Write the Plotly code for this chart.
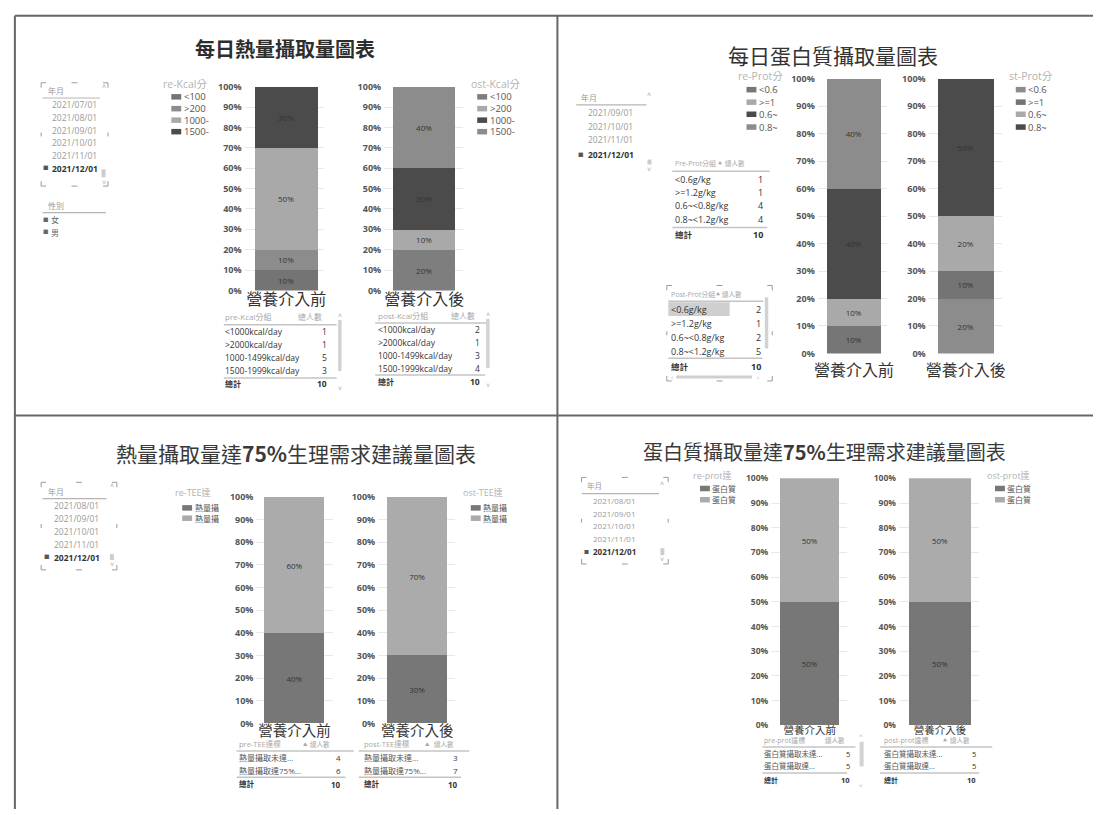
import plotly.graph_objects as go

W, H = 1100, 815

# ------------------------------------------------------------------ data
STAGES = ['營養介入前', '營養介入後']
TITLES = ['每日熱量攝取量圖表', '每日蛋白質攝取量圖表',
          '熱量攝取量達75%生理需求建議量圖表', '蛋白質攝取量達75%生理需求建議量圖表']

MONTH_HEADER = '年月'
MONTHS_KCAL = ['2021/07/01', '2021/08/01', '2021/09/01', '2021/10/01', '2021/11/01', '2021/12/01']
MONTHS_PROT = ['2021/09/01', '2021/10/01', '2021/11/01', '2021/12/01']
MONTHS_TEE = ['2021/08/01', '2021/09/01', '2021/10/01', '2021/11/01', '2021/12/01']
MONTHS_P75 = ['2021/08/01', '2021/09/01', '2021/10/01', '2021/11/01', '2021/12/01']
SELECTED_MONTH = '2021/12/01'
GENDER_HEADER = '性別'
GENDERS = ['女', '男']
COUNT_HEADER = '總人數'
TOTAL_LABEL = '總計'

KCAL_GROUPS = ['<1000kcal/day', '>2000kcal/day', '1000-1499kcal/day', '1500-1999kcal/day']
KCAL_PRE = [1, 1, 5, 3]
KCAL_POST = [2, 1, 3, 4]
KCAL_LEGEND = ['<100', '>200', '1000-', '1500-']
KCAL_FIELDS = ['pre-Kcal分組', 'post-Kcal分組']
KCAL_LEGEND_TITLES = ['re-Kcal分', 'ost-Kcal分']

PROT_GROUPS = ['<0.6g/kg', '>=1.2g/kg', '0.6~<0.8g/kg', '0.8~<1.2g/kg']
PROT_PRE = [1, 1, 4, 4]
PROT_POST = [2, 1, 2, 5]
PROT_LEGEND = ['<0.6', '>=1', '0.6~', '0.8~']
PROT_FIELDS = ['Pre-Prot分組', 'Post-Prot分組']
PROT_LEGEND_TITLES = ['re-Prot分', 'st-Prot分']

TEE_GROUPS = ['熱量攝取未達...', '熱量攝取達75%...']
TEE_PRE = [4, 6]
TEE_POST = [3, 7]
TEE_LEGEND = ['熱量攝', '熱量攝']
TEE_FIELDS = ['pre-TEE達標', 'post-TEE達標']
TEE_LEGEND_TITLES = ['re-TEE達', 'ost-TEE達']

P75_GROUPS = ['蛋白質攝取未達...', '蛋白質攝取達...']
P75_PRE = [5, 5]
P75_POST = [5, 5]
P75_LEGEND = ['蛋白質', '蛋白質']
P75_FIELDS = ['pre-prot達標', 'post-prot達標']
P75_LEGEND_TITLES = ['re-prot達', 'ost-prot達']

# ------------------------------------------------------------------ style
FONT = 'Open Sans, Noto Sans CJK TC, sans-serif'
CJK = 'Noto Sans CJK TC, sans-serif'
DARK, MID, MID2, LIGHT = '#4b4b4b', '#747474', '#8c8c8c', '#a9a9a9'
C_KCAL_PRE = [MID, MID2, LIGHT, DARK]
C_KCAL_POST = ['#7e7e7e', LIGHT, DARK, MID2]
C_PROT_PRE = ['#767676', LIGHT, DARK, MID2]
C_PROT_POST = [MID2, MID, LIGHT, DARK]
C_TWO = ['#777777', '#ababab']


def X(px):
    return px / W


def Y(py):
    return 1 - py / H


shapes, annotations = [], []


def text(x, y, s, size=9, color='#333333', anchor='left', bold=False, family=FONT):
    annotations.append(dict(x=X(x), y=Y(y), xref='paper', yref='paper', text=s,
                            showarrow=False, xanchor=anchor, yanchor='middle', borderpad=0,
                            font=dict(size=size, color=color, family=family,
                                      weight='bold' if bold else 'normal')))


def line(x0, y0, x1, y1, color='#c8c8c8', width=1):
    shapes.append(dict(type='line', xref='paper', yref='paper', x0=X(x0), y0=Y(y0),
                       x1=X(x1), y1=Y(y1), line=dict(color=color, width=width)))


def rect(x0, y0, x1, y1, fill):
    shapes.append(dict(type='rect', xref='paper', yref='paper', x0=X(x0), y0=Y(y1),
                       x1=X(x1), y1=Y(y0), fillcolor=fill, line=dict(width=0)))


def brackets(x0, y0, x1, y1, c='#9a9a9a'):
    L = 5
    for cx, cy, dx, dy in [(x0, y0, 1, 1), (x1, y0, -1, 1), (x0, y1, 1, -1), (x1, y1, -1, -1)]:
        line(cx, cy, cx + dx * L, cy, c, 1)
        line(cx, cy, cx, cy + dy * L, c, 1)
    mx, my = (x0 + x1) / 2, (y0 + y1) / 2
    line(mx - 3, y0, mx + 3, y0, c, 1)
    line(mx - 3, y1, mx + 3, y1, c, 1)
    line(x0, my - 2, x0, my + 2, c, 1)
    line(x1, my - 2, x1, my + 2, c, 1)


def slicer(months, hx, hy, lx1, tx, bx, ys, size=8.5):
    text(hx, hy, MONTH_HEADER, size - 0.5, '#9a9a9a')
    line(hx - 4, hy + 7.5, lx1, hy + 7.5, '#b5b5b5', 1.2)
    for m, y in zip(months, ys):
        sel = m == SELECTED_MONTH
        if sel:
            text(bx, y, '■', size - 3, '#555555', 'center')
        text(tx, y, m, size, '#333333' if sel else '#999999', bold=sel)


def legend(title, labels, colors, tx, ty, sx, ys, size=9):
    text(tx, ty, title, size + 1, '#b3b3b3')
    for lab, c, y in zip(labels, colors, ys):
        rect(sx, y - 2.8, sx + 10, y + 2.8, c)
        text(sx + 11.5, y, lab, size, '#555555')


def table(field, rows, counts, x, hy, hr, l1, lx0, lx1, ys, nr, l2, lx2, ty,
          fs=8.5, hs=8, chs=None, arrow=None, row_color='#333333'):
    text(x, hy, field, hs, '#a8a8a8')
    if arrow is not None:
        text(arrow, hy, '▲', hs - 3, '#a8a8a8', 'center')
    text(hr, hy, COUNT_HEADER, chs or hs, '#a8a8a8', 'right')
    line(lx0, l1, lx1, l1, '#c4c4c4', 1.5)
    for name, n, y in zip(rows, counts, ys):
        text(x, y, name, fs, row_color)
        text(nr, y, str(n), fs, '#333333', 'right')
    line(lx0, l2, lx2, l2, '#c4c4c4', 1.5)
    text(x, ty, TOTAL_LABEL, fs - 0.5, '#333333', bold=True)
    text(nr, ty, str(sum(counts)), fs, '#333333', 'right', bold=True)


def steps(y0, dy, n):
    return [y0 + i * dy for i in range(n)]


# ------------------------------------------------------------------ charts
CHARTS = [
    dict(groups=KCAL_GROUPS, counts=KCAL_PRE, colors=C_KCAL_PRE, stage=0,
         plot=(243, 323, 81, 288), bar=(253, 317), tick=16, standoff=-2, yt=9),
    dict(groups=KCAL_GROUPS, counts=KCAL_POST, colors=C_KCAL_POST, stage=1,
         plot=(384, 464, 81, 288), bar=(393, 456), tick=16, standoff=-2, yt=9),
    dict(groups=PROT_GROUPS, counts=PROT_PRE, colors=C_PROT_PRE, stage=0,
         plot=(822, 892, 73, 352), bar=(831, 886), tick=16, standoff=6, yt=9),
    dict(groups=PROT_GROUPS, counts=PROT_POST, colors=C_PROT_POST, stage=1,
         plot=(934, 1008, 73, 352), bar=(943, 1000), tick=16, standoff=6, yt=9),
    dict(groups=TEE_GROUPS, counts=TEE_PRE, colors=C_TWO, stage=0,
         plot=(255, 332, 498, 728), bar=(263, 324), tick=14.5, standoff=-3, yt=9),
    dict(groups=TEE_GROUPS, counts=TEE_POST, colors=C_TWO, stage=1,
         plot=(378, 456, 498, 728), bar=(387, 448), tick=14.5, standoff=-3, yt=9),
    dict(groups=P75_GROUPS, counts=P75_PRE, colors=C_TWO, stage=0,
         plot=(775, 852, 479, 730), bar=(784, 844), tick=10.5, standoff=-3, yt=8.5),
    dict(groups=P75_GROUPS, counts=P75_POST, colors=C_TWO, stage=1,
         plot=(904, 985, 479, 730), bar=(914, 977), tick=10.5, standoff=-3, yt=8.5),
]

fig = go.Figure()
layout_axes = {}
BW = 0.8
for i, ch in enumerate(CHARTS, start=1):
    xa, ya = ('x', 'y') if i == 1 else (f'x{i}', f'y{i}')
    total = sum(ch['counts'])
    cat = STAGES[ch['stage']]
    for g, n, c in zip(ch['groups'], ch['counts'], ch['colors']):
        fig.add_trace(go.Bar(
            x=[cat], y=[n / total], name=g, width=BW, marker=dict(color=c, line=dict(width=0)),
            texttemplate='%{y:.0%}', textposition='inside', insidetextanchor='middle',
            textangle=0, constraintext='none',
            textfont=dict(size=8, color='#333333', family=FONT),
            showlegend=False, hoverinfo='skip', xaxis=xa, yaxis=ya))
    p0, p1, t, b = ch['plot']
    b0, b1 = ch['bar']
    s = (b1 - b0) / BW
    r0 = -BW / 2 - (b0 - p0) / s
    r1 = BW / 2 + (p1 - b1) / s
    xkey = 'xaxis' if i == 1 else f'xaxis{i}'
    ykey = 'yaxis' if i == 1 else f'yaxis{i}'
    layout_axes[xkey] = dict(domain=[X(p0), X(p1)], anchor=ya, type='category', range=[r0, r1],
                             showgrid=False, zeroline=False, showline=False, ticks='',
                             tickfont=dict(size=ch['tick'], color='#333333', family=CJK),
                             ticklabelstandoff=ch['standoff'], fixedrange=True)
    layout_axes[ykey] = dict(domain=[Y(b), Y(t)], anchor=xa, range=[0, 1],
                             tickvals=[k / 10 for k in range(11)], tickformat='.0%',
                             showgrid=True, gridcolor='#e9e9e9', gridwidth=1,
                             zeroline=False, showline=False, ticks='',
                             tickfont=dict(size=ch['yt'], color='#555555', family=FONT, weight='bold'),
                             ticklabelstandoff=2, fixedrange=True)

# ------------------------------------------------------------------ panel frames
line(11, 9, 11, 815, '#666666', 2)
line(11, 9, 1100, 9, '#666666', 2)
line(559, 9, 559, 815, '#666666', 2)
line(11, 415, 1100, 415, '#666666', 2)

# ------------------------------------------------------------------ titles
text(284, 42, TITLES[0], 20, '#2e2e2e', 'center', bold=True, family=CJK)
text(837, 49, TITLES[1], 21, '#333333', 'center', family=CJK)
text(295, 453, TITLES[2].replace('75%', '<b>75%</b>'), 21, '#3a3a3a', 'center', family=CJK)
text(829, 452, TITLES[3].replace('75%', '<b>75%</b>'), 20, '#3a3a3a', 'center', family=CJK)

# ------------------------------------------------------------------ panel 1
brackets(37.5, 77, 105, 182)
slicer(MONTHS_KCAL, 43, 85, 97, 47.5, 42, steps(99, 13, 6))
text(101, 81, '˄', 7, '#aaaaaa', 'center')
rect(98.5, 165, 102.5, 173, '#cccccc')
text(101, 178, '˅', 7, '#aaaaaa', 'center')
text(43, 202, GENDER_HEADER, 8, '#9a9a9a')
line(39, 209, 103, 209, '#b5b5b5', 1.2)
for gname, y in zip(GENDERS, [216, 229]):
    text(42, y, '■', 5.5, '#666666', 'center')
    text(46, y, gname, 8, '#666666')

legend(KCAL_LEGEND_TITLES[0], KCAL_LEGEND, C_KCAL_PRE, 160, 78, 169, [91.3, 103.3, 115, 126.7], size=9.5)
legend(KCAL_LEGEND_TITLES[1], KCAL_LEGEND, C_KCAL_POST, 471, 78, 478, [91.3, 103.3, 115, 126.7], size=9.5)

table(KCAL_FIELDS[0], KCAL_GROUPS, KCAL_PRE, 222.5, 315, 322.5, 323, 222, 336,
      steps(330, 13, 4), 327.5, 377, 336, 383)
rect(337.5, 318, 341, 370, '#d2d2d2')
text(339, 313, '˄', 7, '#b0b0b0', 'center')
text(339, 388, '˅', 7, '#b0b0b0', 'center')
table(KCAL_FIELDS[1], KCAL_GROUPS, KCAL_POST, 377, 314, 477, 321, 375, 488,
      steps(328, 13, 4), 482, 374, 486, 381)
rect(487, 317, 490.5, 367, '#d2d2d2')
text(489, 312, '˄', 7, '#b0b0b0', 'center')
text(489, 385, '˅', 7, '#b0b0b0', 'center')

# ------------------------------------------------------------------ panel 2
slicer(MONTHS_PROT, 582, 92, 649, 589, 583, [107, 121, 135, 150])
text(652, 89, '˄', 7, '#aaaaaa', 'center')
rect(650, 155, 654, 160, '#cccccc')
text(652, 165, '˅', 7, '#aaaaaa', 'center')

legend(PROT_LEGEND_TITLES[0], PROT_LEGEND, C_PROT_PRE, 740, 70, 750, [84, 96.7, 109, 122], size=9.5)
legend(PROT_LEGEND_TITLES[1], PROT_LEGEND, C_PROT_POST, 1014, 70, 1022, [84, 96.7, 109, 122], size=9.5)

table(PROT_FIELDS[0], PROT_GROUPS, PROT_PRE, 677, 159, 749, 167, 675, 773.5,
      [175, 188.5, 202, 216], 767.5, 224, 771, 231, fs=9, hs=7, chs=6.5, arrow=723)
brackets(669.5, 283, 776, 380)
rect(671, 300, 733, 314, '#cfcfcf')
table(PROT_FIELDS[1], PROT_GROUPS, PROT_POST, 673, 292, 746, 299, 671, 767,
      [307, 321.5, 335.5, 350], 765.5, 357, 766, 365, fs=9, hs=7, chs=6.5, arrow=721)
rect(768.5, 295, 772, 347, '#d2d2d2')
rect(679, 374.5, 755.5, 377.5, '#cfcfcf')
text(675, 376, '‹', 7, '#b0b0b0', 'center')
text(762, 376, '›', 7, '#b0b0b0', 'center')

# ------------------------------------------------------------------ panel 3
brackets(37.5, 483, 114, 572)
slicer(MONTHS_TEE, 43, 492, 103.5, 49.3, 43.5, steps(507, 13, 5))
text(109, 486, '˄', 7, '#aaaaaa', 'center')
rect(107, 556, 111, 562, '#cccccc')
text(109, 567, '˅', 7, '#aaaaaa', 'center')

legend(TEE_LEGEND_TITLES[0], TEE_LEGEND, C_TWO, 171.5, 493, 180, [509, 519.5], size=8)
legend(TEE_LEGEND_TITLES[1], TEE_LEGEND, C_TWO, 462.5, 493, 471.5, [509, 519.5], size=8)

table(TEE_FIELDS[0], TEE_GROUPS, TEE_PRE, 236.5, 749, 330, 756, 235, 353.3,
      [762.5, 776], 341.7, 782.7, 345, 790, fs=8, hs=7.5, chs=6.5, arrow=305,
      row_color='#555555')
table(TEE_FIELDS[1], TEE_GROUPS, TEE_POST, 362.7, 749, 456, 756, 358.3, 470,
      [762.5, 776], 460, 782.7, 461.7, 790, fs=8, hs=7.5, chs=6.5, arrow=428,
      row_color='#555555')

# ------------------------------------------------------------------ panel 4
brackets(583.4, 478, 670.9, 566)
slicer(MONTHS_P75, 587.5, 487, 661.6, 593.7, 588.2, [502, 514.7, 527.3, 540, 553], size=8)
text(665, 484, '˄', 7, '#aaaaaa', 'center')
rect(663, 550, 667, 557, '#cccccc')
text(665, 561, '˅', 7, '#aaaaaa', 'center')

legend(P75_LEGEND_TITLES[0], P75_LEGEND, C_TWO, 695, 476, 703, [489.3, 500.7], size=8)
legend(P75_LEGEND_TITLES[1], P75_LEGEND, C_TWO, 992, 476, 1001, [489.3, 500.7], size=8)

table(P75_FIELDS[0], P75_GROUPS, P75_PRE, 766.7, 745, 850.7, 752, 766, 860,
      [759, 771.5], 856, 778.3, 851.7, 786, fs=7.5, hs=7, chs=6.5, row_color='#555555')
rect(864.3, 746.7, 868.3, 771.7, '#d2d2d2')
text(866, 741, '˄', 6, '#b0b0b0', 'center')
text(866, 792, '˅', 6, '#b0b0b0', 'center')
table(P75_FIELDS[1], P75_GROUPS, P75_POST, 888.3, 745, 976.7, 752, 885, 998.3,
      [759, 771.5], 982.7, 778.3, 985, 786, fs=7.5, hs=7, chs=6.5, arrow=951,
      row_color='#555555')

fig.update_layout(
    width=W, height=H, autosize=False, margin=dict(l=0, r=0, t=0, b=0, pad=0),
    paper_bgcolor='white', plot_bgcolor='white', barmode='stack', bargap=0,
    showlegend=False, shapes=shapes, annotations=annotations,
    font=dict(family=FONT, color='#333333'), **layout_axes)

fig.write_html('out.html', config={'displayModeBar': False})
